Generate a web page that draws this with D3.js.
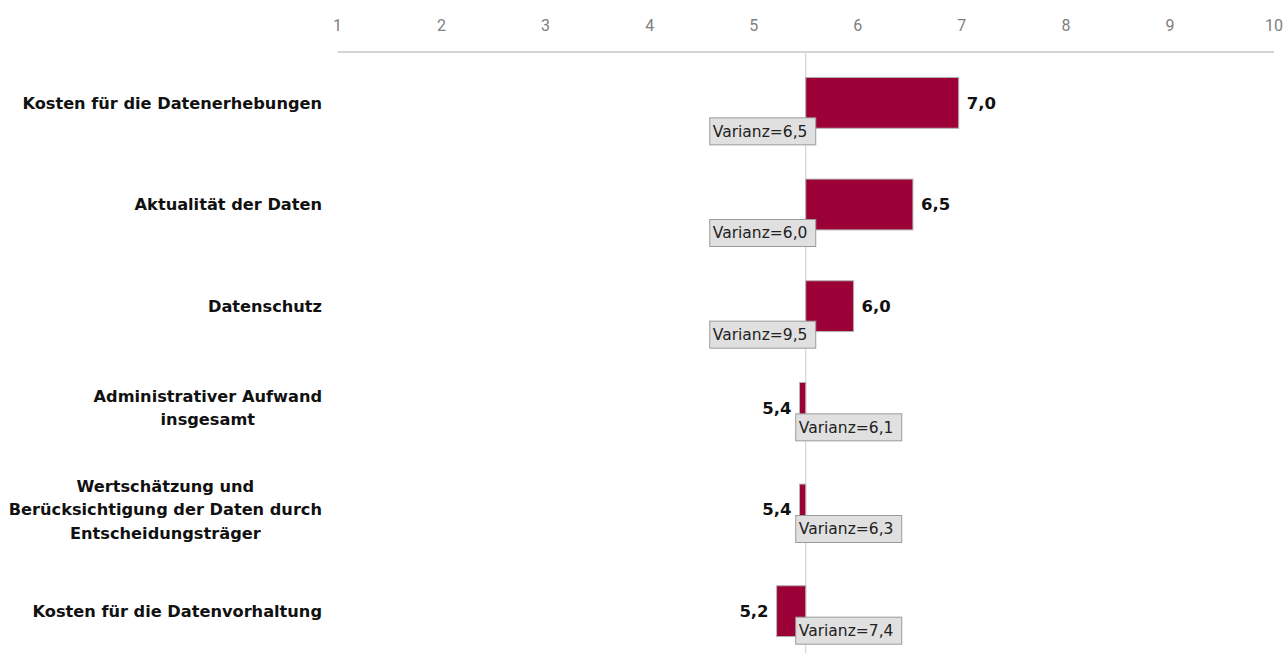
<!DOCTYPE html>
<html>
<head>
<meta charset="utf-8">
<script src="https://cdn.jsdelivr.net/npm/d3@7"></script>
<style>
  body { margin: 0; background: #fff; }
  svg { display: block; }
</style>
</head>
<body>
<div id="chart"></div>
<script>
// chart data
const categories = [
    ["Kosten für die Datenerhebungen"],
    ["Aktualität der Daten"],
    ["Datenschutz"],
    ["Administrativer Aufwand", "insgesamt"],
    ["Wertschätzung und", "Berücksichtigung der Daten durch", "Entscheidungsträger"],
    ["Kosten für die Datenvorhaltung"]
];
const means = [6.97, 6.53, 5.96, 5.44, 5.44, 5.22];
const variances = [6.5, 6.0, 9.5, 6.1, 6.3, 7.4];
const tickValues = [1, 2, 3, 4, 5, 6, 7, 8, 9, 10];
const baseline = 5.5;

const width = 1286, height = 653;
const fmt = v => d3.format(".1f")(v).replace(".", ",");

const svg = d3.select("#chart").append("svg")
    .attr("width", width)
    .attr("height", height);

const x = d3.scaleLinear().domain([1, 10]).range([337.5, 1274]);
const y = d3.scaleBand()
    .domain(d3.range(categories.length))
    .range([52, 662])
    .paddingInner(0.5)
    .paddingOuter(0.25);

// top axis
const axis = svg.append("g").attr("transform", "translate(0,52)");
axis.append("line")
    .attr("x1", x(1)).attr("x2", x(10))
    .attr("stroke", "#d4d4d4")
    .attr("stroke-width", 2);
axis.selectAll("text.tick")
    .data(tickValues)
    .enter().append("text")
    .attr("class", "tick")
    .attr("x", d => x(d))
    .attr("y", -21)
    .attr("text-anchor", "middle")
    .attr("font-family", "Roboto, 'Open Sans', sans-serif")
    .attr("font-size", 16)
    .attr("fill", "#808080")
    .text(d => d);

// baseline
svg.append("line")
    .attr("x1", x(baseline)).attr("x2", x(baseline))
    .attr("y1", 53).attr("y2", height)
    .attr("stroke", "#cccccc")
    .attr("stroke-width", 1);

// category labels: lines centred with each other, block right-aligned
const labelRight = 322;
const lineH = 23.5;
categories.forEach((lines, i) => {
    const cy = y(i) + y.bandwidth() / 2;
    const g = svg.append("g");
    const texts = g.selectAll("text")
        .data(lines)
        .enter().append("text")
        .attr("y", (d, j) => cy + (j - (lines.length - 1) / 2) * lineH)
        .attr("dy", "0.35em")
        .attr("text-anchor", "middle")
        .attr("font-family", "'DejaVu Sans', Verdana, sans-serif")
        .attr("font-weight", "bold")
        .attr("font-size", 16.2)
        .attr("fill", "#111")
        .text(d => d);
    let maxW = 0;
    texts.each(function () { maxW = Math.max(maxW, this.getComputedTextLength()); });
    texts.attr("x", labelRight - maxW / 2);
});

// bars
svg.append("g").selectAll("rect")
    .data(means)
    .enter().append("rect")
    .attr("x", d => Math.min(x(d), x(baseline)))
    .attr("y", (d, i) => y(i))
    .attr("width", d => Math.abs(x(d) - x(baseline)))
    .attr("height", y.bandwidth())
    .attr("fill", "#9b0036")
    .attr("stroke", "#b4b4b4")
    .attr("stroke-width", 1);

// value labels
svg.append("g").selectAll("text")
    .data(means)
    .enter().append("text")
    .attr("x", d => d >= baseline ? x(d) + 8 : x(d) - 8)
    .attr("y", (d, i) => y(i) + y.bandwidth() / 2)
    .attr("dy", "0.35em")
    .attr("text-anchor", d => d >= baseline ? "start" : "end")
    .attr("font-family", "'DejaVu Sans', Verdana, sans-serif")
    .attr("font-weight", "bold")
    .attr("font-size", 16.5)
    .attr("fill", "#111")
    .text(d => fmt(d));

// variance boxes
const boxW = 106, boxH = 27;
const boxes = svg.append("g").selectAll("g")
    .data(variances)
    .enter().append("g")
    .attr("transform", (v, i) => {
        const m = means[i];
        const bx = m >= baseline ? x(baseline) + 10 - boxW : x(baseline) - 10;
        const by = y(i) + y.bandwidth() / 2 + (m >= baseline ? 15 : 6);
        return `translate(${bx},${by})`;
    });
boxes.append("rect")
    .attr("width", boxW)
    .attr("height", boxH)
    .attr("fill", "#e0e0e0")
    .attr("stroke", "#9a9a9a")
    .attr("stroke-width", 1);
boxes.append("text")
    .attr("x", 3)
    .attr("y", boxH / 2)
    .attr("dy", "0.35em")
    .attr("font-family", "'DejaVu Sans', Verdana, sans-serif")
    .attr("font-size", 15.5)
    .attr("fill", "#222")
    .text(v => "Varianz=" + fmt(v));
</script>
</body>
</html>
